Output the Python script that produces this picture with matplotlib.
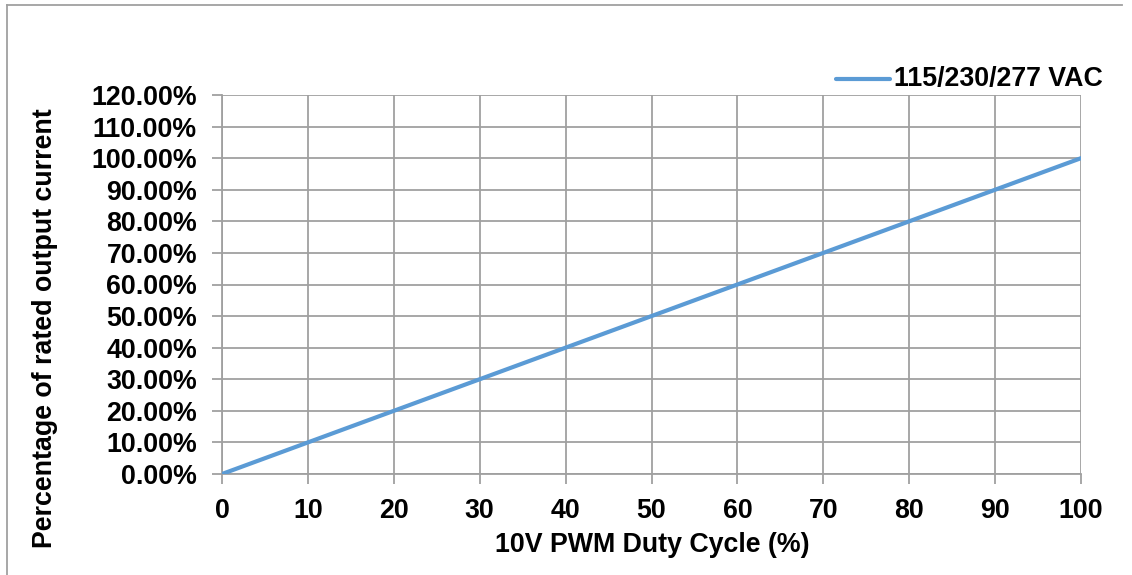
import matplotlib
matplotlib.use('Agg')
import matplotlib.pyplot as plt
from matplotlib.lines import Line2D
from matplotlib.ticker import FuncFormatter

plt.rcParams['font.family'] = ['Liberation Sans', 'DejaVu Sans']
plt.rcParams['font.weight'] = 'bold'

# data
duty = [0, 10, 20, 30, 40, 50, 60, 70, 80, 90, 100]
current = [0, 10, 20, 30, 40, 50, 60, 70, 80, 90, 100]
series_name = '115/230/277 VAC'

W, H = 1132, 575
fs = 19.3
fig = plt.figure(figsize=(W / 100, H / 100), dpi=100)
ax = fig.add_axes([222 / W, 1 - 474 / H, (1081 - 222) / W, (474 - 95) / H])

line_color = '#5B9BD5'
grid_color = '#A0A0A0'

ax.plot(duty, current, color=line_color, lw=3, solid_capstyle='round', zorder=3)

ax.set_xlim(0, 100)
ax.set_ylim(0, 120)
ax.set_xticks(range(0, 101, 10))
ax.set_yticks(range(0, 121, 10))
ax.yaxis.set_major_formatter(FuncFormatter(lambda v, p: f'{v:.2f}%'))
ax.grid(True, color=grid_color, lw=1.3)
ax.set_axisbelow(True)
for s in ['top', 'right']:
    ax.spines[s].set_visible(False)
for s in ['left', 'bottom']:
    ax.spines[s].set_color(grid_color)
    ax.spines[s].set_linewidth(1.3)
ax.tick_params(axis='both', length=7, width=1.3, color=grid_color,
               labelsize=fs)
ax.tick_params(axis='y', pad=11)
ax.tick_params(axis='x', pad=10)
for lab in ax.get_xticklabels() + ax.get_yticklabels():
    lab.set_fontweight('bold')

fig.text(652 / W, 1 - 545 / H, '10V PWM Duty Cycle (%)', ha='center', va='center',
         fontsize=fs, fontweight='bold')
fig.text(45 / W, 1 - 328 / H, 'Percentage of rated output current', ha='center',
         va='center', rotation=90, fontsize=fs, fontweight='bold')

# legend
fig.add_artist(Line2D([836 / W, 890 / W], [1 - 79 / H, 1 - 79 / H], color=line_color,
                      lw=3, solid_capstyle='round'))
fig.text(894 / W, 1 - 79 / H, series_name, ha='left', va='center', fontsize=fs,
         fontweight='bold')

# outer border (top and left only visible)
fig.add_artist(Line2D([7 / W, 1122 / W], [1 - 5 / H, 1 - 5 / H], color='#A0A0A0', lw=1.3))
fig.add_artist(Line2D([7 / W, 7 / W], [1 - 5 / H, 0], color='#A0A0A0', lw=1.3))

fig.savefig('out.png', dpi=100)
